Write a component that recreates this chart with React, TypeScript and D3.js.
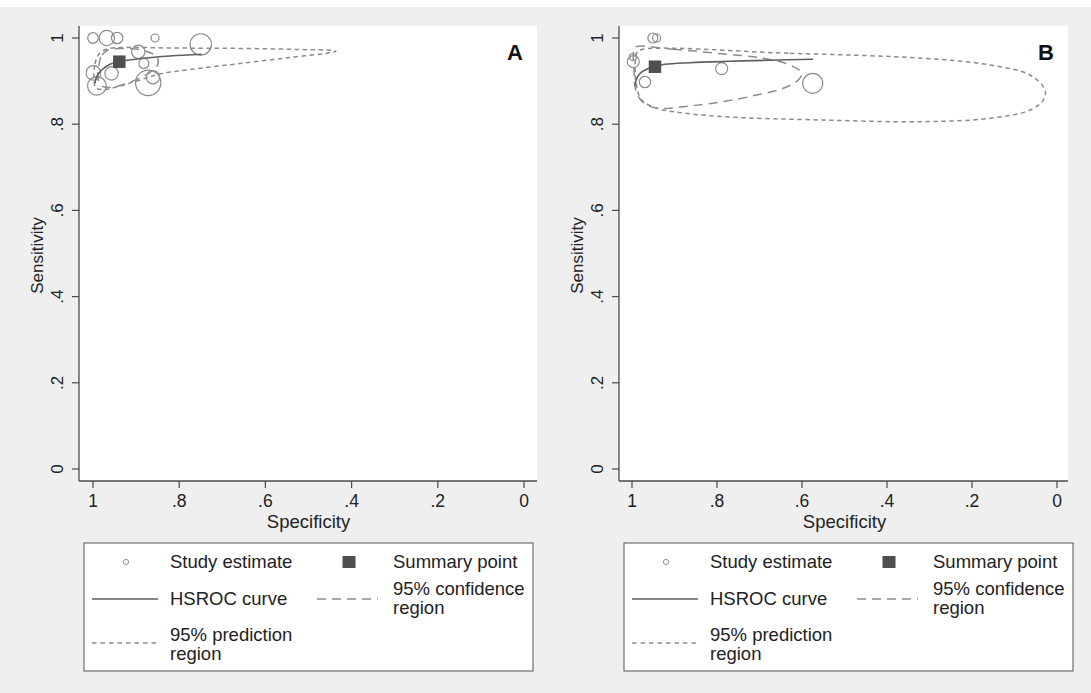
import React from "react";
import * as d3 from "d3";

// [specificity, sensitivity, weight]
type Study = [number, number, number];
type Pt = [number, number];

const specTicks = [1, 0.8, 0.6, 0.4, 0.2, 0];
const sensTicks = [0, 0.2, 0.4, 0.6, 0.8, 1];

const legendLabels = {
  study: "Study estimate",
  summary: "Summary point",
  curve: "HSROC curve",
  conf: ["95% confidence", "region"],
  pred: ["95% prediction", "region"],
};

// ---- Panel A ----
const studiesA: Study[] = [
  [1.0, 1.0, 66],
  [0.968, 1.0, 140],
  [0.944, 1.0, 77],
  [0.856, 1.0, 38],
  [0.75, 0.985, 271],
  [0.895, 0.968, 106],
  [0.882, 0.941, 59],
  [0.957, 0.918, 106],
  [0.999, 0.919, 126],
  [0.991, 0.889, 205],
  [0.872, 0.896, 382],
  [0.861, 0.909, 106],
];
const summaryA: Pt = [0.939, 0.945];
const hsrocA: Pt[] = [
  [0.9954, 0.8949],
  [0.9914, 0.9102],
  [0.9798, 0.9258],
  [0.9606, 0.939],
  [0.939, 0.945],
  [0.8833, 0.9529],
  [0.8213, 0.9582],
  [0.7478, 0.9622],
];
const confA: Pt[] = [
  [0.9861, 0.9397],
  [0.9791, 0.9606],
  [0.9652, 0.9722],
  [0.9374, 0.9756],
  [0.9026, 0.9745],
  [0.8724, 0.9675],
  [0.8515, 0.9559],
  [0.8492, 0.9397],
  [0.8631, 0.9234],
  [0.891, 0.9072],
  [0.9258, 0.8933],
  [0.9606, 0.8852],
  [0.9791, 0.8886],
  [0.9884, 0.9072],
];
const predA: Pt[] = [
  [0.9977, 0.9026],
  [0.9954, 0.9397],
  [0.9861, 0.9629],
  [0.9675, 0.9745],
  [0.9258, 0.978],
  [0.8213, 0.9768],
  [0.6357, 0.9756],
  [0.5197, 0.9733],
  [0.4432, 0.971],
  [0.4362, 0.9691],
  [0.4455, 0.9664],
  [0.5429, 0.9548],
  [0.6589, 0.9408],
  [0.7749, 0.9269],
  [0.8445, 0.9165],
  [0.891, 0.9026],
  [0.942, 0.8875],
  [0.9745, 0.8805],
  [0.993, 0.884],
];

// ---- Panel B ----
const studiesB: Study[] = [
  [0.951, 1.0, 59],
  [0.942, 1.0, 38],
  [0.9976, 0.9559, 29],
  [0.997, 0.945, 85],
  [0.9694, 0.8979, 77],
  [0.789, 0.9288, 85],
  [0.5748, 0.8949, 237],
];
const summaryB: Pt = [0.9459, 0.9334];
const hsrocB: Pt[] = [
  [0.9929, 0.8886],
  [0.9894, 0.9049],
  [0.9812, 0.9176],
  [0.9647, 0.9281],
  [0.9459, 0.9339],
  [0.9224, 0.939],
  [0.8635, 0.9427],
  [0.7694, 0.9459],
  [0.6753, 0.9485],
  [0.5741, 0.9506],
];
const confB: Pt[] = [
  [0.9929, 0.9784],
  [0.9028, 0.9738],
  [0.8007, 0.9645],
  [0.6911, 0.9529],
  [0.6282, 0.9374],
  [0.6007, 0.9181],
  [0.6087, 0.9026],
  [0.644, 0.8833],
  [0.7066, 0.8677],
  [0.7852, 0.8522],
  [0.8635, 0.8422],
  [0.9341, 0.8369],
  [0.9654, 0.8445],
  [0.9852, 0.8638],
  [0.9929, 0.887],
  [0.9953, 0.9258],
  [0.9969, 0.9645],
];
const predB: Pt[] = [
  [0.9812, 0.9722],
  [0.6282, 0.9645],
  [0.3146, 0.9529],
  [0.1576, 0.9374],
  [0.0635, 0.9142],
  [0.0282, 0.8794],
  [0.0322, 0.8561],
  [0.0635, 0.8329],
  [0.1576, 0.8137],
  [0.3146, 0.8058],
  [0.5499, 0.8097],
  [0.7852, 0.8174],
  [0.9028, 0.829],
  [0.9419, 0.8369],
  [0.9772, 0.8561],
  [0.9889, 0.887],
  [0.9929, 0.9258],
  [0.9889, 0.9645],
];

const FONT = "'Liberation Sans', Arial, Helvetica, sans-serif";
const AXIS = "#4a4a4a";
const MARK = "#8c8c8c";
const CURVE = "#5f5f5f";
const SQUARE = "#4f4f4f";

const fmt = (v: number) => (v === 0 ? "0" : v === 1 ? "1" : String(v).replace(/^0/, ""));
const rScale = d3.scaleSqrt().domain([0, 400]).range([0, 13]);

interface PanelProps {
  left: number; // plot region left edge
  right: number;
  xFrom: number; // pixel of specificity 1
  xTo: number; // pixel of specificity 0
  letter: string;
  studies: Study[];
  summary: Pt;
  hsroc: Pt[];
  conf: Pt[];
  pred: Pt[];
}

function Panel(p: PanelProps) {
  const top = 26;
  const bottom = 481;
  const x = d3.scaleLinear().domain([1, 0]).range([p.xFrom, p.xTo]);
  const y = d3.scaleLinear().domain([0, 1]).range([469, 38]);
  const closed = d3
    .line<Pt>()
    .x((d) => x(d[0]))
    .y((d) => y(d[1]))
    .curve(d3.curveCatmullRomClosed.alpha(0.5));
  const open = d3
    .line<Pt>()
    .x((d) => x(d[0]))
    .y((d) => y(d[1]))
    .curve(d3.curveCatmullRom.alpha(0.5));
  const midX = (x(1) + x(0)) / 2;
  const midY = (y(0) + y(1)) / 2;
  const sq = 12.5;

  // legend geometry relative to plot left edge
  const L = p.left + 5;
  const lg = {
    box: [L, 543, 449, 128],
  };

  return (
    <g fontFamily={FONT}>
      <rect x={p.left} y={top} width={p.right - p.left} height={bottom - top} fill="#ffffff" />
      <g clipPath={undefined}>
        <path d={closed(p.pred) || ""} fill="none" stroke={MARK} strokeWidth={1.5} strokeDasharray="4.5 3.5" />
        <path d={closed(p.conf) || ""} fill="none" stroke={MARK} strokeWidth={1.5} strokeDasharray="9 6" />
        {p.studies.map((s, i) => (
          <circle key={i} cx={x(s[0])} cy={y(s[1])} r={rScale(s[2])} fill="none" stroke={MARK} strokeWidth={1.2} />
        ))}
        <path d={open(p.hsroc) || ""} fill="none" stroke={CURVE} strokeWidth={1.6} />
        <rect x={x(p.summary[0]) - sq / 2} y={y(p.summary[1]) - sq / 2} width={sq} height={sq} fill={SQUARE} />
      </g>

      {/* axes */}
      <line x1={p.left} x2={p.left} y1={top} y2={bottom} stroke={AXIS} strokeWidth={1.3} />
      <line x1={p.left} x2={p.right} y1={bottom} y2={bottom} stroke={AXIS} strokeWidth={1.3} />
      {sensTicks.map((t) => (
        <g key={"y" + t}>
          <line x1={p.left - 7} x2={p.left} y1={y(t)} y2={y(t)} stroke={AXIS} strokeWidth={1.2} />
          <text
            transform={`translate(${p.left - 16},${y(t)}) rotate(-90)`}
            textAnchor="middle"
            fontSize={17}
            fill="#222"
          >
            {fmt(t)}
          </text>
        </g>
      ))}
      {specTicks.map((t) => (
        <g key={"x" + t}>
          <line x1={x(t)} x2={x(t)} y1={bottom} y2={bottom + 7} stroke={AXIS} strokeWidth={1.2} />
          <text x={x(t)} y={507} textAnchor="middle" fontSize={17.5} fill="#222">
            {fmt(t)}
          </text>
        </g>
      ))}
      <text x={midX} y={528} textAnchor="middle" fontSize={18.5} fill="#222">
        Specificity
      </text>
      <text
        transform={`translate(${p.left - 36},${midY + 2}) rotate(-90)`}
        textAnchor="middle"
        fontSize={17}
        fill="#222"
      >
        Sensitivity
      </text>
      <text x={p.right - 14} y={60} textAnchor="end" fontSize={22} fontWeight="bold" fill="#111">
        {p.letter}
      </text>

      {/* legend */}
      <rect x={lg.box[0]} y={lg.box[1]} width={lg.box[2]} height={lg.box[3]} fill="#ffffff" stroke="#555" strokeWidth={1} />
      <circle cx={L + 42} cy={562} r={2.6} fill="none" stroke={MARK} strokeWidth={1} />
      <text x={L + 86} y={568} fontSize={18.5} fill="#222">{legendLabels.study}</text>
      <rect x={L + 265 - 6.5} y={556} width={13} height={12} fill={SQUARE} />
      <text x={L + 309} y={568} fontSize={18.5} fill="#222">{legendLabels.summary}</text>

      <line x1={L + 8} x2={L + 74} y1={599} y2={599} stroke={CURVE} strokeWidth={1.6} />
      <text x={L + 86} y={605} fontSize={18.5} fill="#222">{legendLabels.curve}</text>
      <line x1={L + 233} x2={L + 294} y1={599} y2={599} stroke={MARK} strokeWidth={1.5} strokeDasharray="9 6" />
      <text x={L + 309} y={595} fontSize={18.5} fill="#222">{legendLabels.conf[0]}</text>
      <text x={L + 309} y={614} fontSize={18.5} fill="#222">{legendLabels.conf[1]}</text>

      <line x1={L + 8} x2={L + 74} y1={643} y2={643} stroke={MARK} strokeWidth={1.5} strokeDasharray="4.5 4" />
      <text x={L + 86} y={641} fontSize={18.5} fill="#222">{legendLabels.pred[0]}</text>
      <text x={L + 86} y={660} fontSize={18.5} fill="#222">{legendLabels.pred[1]}</text>
    </g>
  );
}

export default function App() {
  return (
    <svg
      width={1091}
      height={693}
      style={{ position: "absolute", left: 0, top: 0, display: "block" }}
    >
      <rect x={0} y={0} width={1091} height={693} fill="#ffffff" />
      <rect x={0} y={7} width={1091} height={686} fill="#efefef" />
      <Panel
        left={79}
        right={537}
        xFrom={93}
        xTo={524}
        letter="A"
        studies={studiesA}
        summary={summaryA}
        hsroc={hsrocA}
        conf={confA}
        pred={predA}
      />
      <Panel
        left={619}
        right={1068}
        xFrom={632}
        xTo={1057}
        letter="B"
        studies={studiesB}
        summary={summaryB}
        hsroc={hsrocB}
        conf={confB}
        pred={predB}
      />
    </svg>
  );
}
